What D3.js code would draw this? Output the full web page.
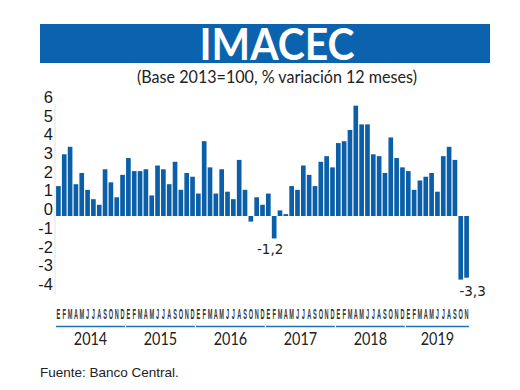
<!DOCTYPE html>
<html>
<head>
<meta charset="utf-8">
<script src="https://cdn.jsdelivr.net/npm/d3@7"></script>
<style>
  html, body { margin: 0; padding: 0; background: #fff; }
  svg { display: block; }
</style>
</head>
<body>
<div id="chart"></div>
<script>
(function() {
    // data (% variación 12 meses)
    var years = ["2014", "2015", "2016", "2017", "2018", "2019"];
    var monthLetters = ["E", "F", "M", "A", "M", "J", "J", "A", "S", "O", "N", "D"];
    var v2014 = [1.6, 3.3, 3.7, 1.7, 2.3, 1.4, 0.9, 0.6, 2.5, 1.8, 1.0, 2.2];
    var v2015 = [3.1, 2.4, 2.4, 2.5, 1.1, 2.7, 2.5, 1.7, 2.9, 1.4, 2.3, 2.1];
    var v2016 = [1.2, 4.0, 2.6, 1.2, 2.5, 1.3, 0.9, 3.0, 1.4, -0.3, 1.0, 0.6];
    var v2017 = [1.2, -1.2, 0.3, 0.1, 1.6, 1.4, 2.7, 2.2, 1.6, 2.9, 3.2, 2.6];
    var v2018 = [3.9, 4.0, 4.6, 5.9, 4.9, 4.9, 3.3, 3.2, 2.3, 4.2, 3.1, 2.6];
    var v2019 = [2.4, 1.4, 1.9, 2.1, 2.3, 1.3, 3.2, 3.7, 3.0, -3.4, -3.3];
    var yTicks = [6, 5, 4, 3, 2, 1, 0, -1, -2, -3, -4];
    var noteIndex = [37, 70];
    var noteText = ["-1,2", "-3,3"];

    var yearValues = [v2014, v2015, v2016, v2017, v2018, v2019];
    var data = [];
    yearValues.forEach(function(vals, yi) {
        vals.forEach(function(v, m) {
            data.push({i: data.length, year: years[yi], month: m, value: v});
        });
    });

    var width = 520, height = 390;
    var blue = "#0a5fa8";

    var svg = d3.select("#chart").append("svg")
        .attr("width", width)
        .attr("height", height);

    // title band
    svg.append("rect")
        .attr("x", 40).attr("y", 24)
        .attr("width", 450).attr("height", 39)
        .attr("fill", "#0b63af");

    svg.append("text")
        .attr("transform", "translate(277,60) scale(1,1.08)")
        .attr("text-anchor", "middle")
        .attr("textLength", 155)
        .attr("lengthAdjust", "spacingAndGlyphs")
        .style("font-family", "Lato, 'Open Sans', sans-serif")
        .style("font-weight", "bold")
        .style("font-size", "40px")
        .style("fill", "#fff")
        .text("IMACEC");

    svg.append("text")
        .attr("x", 277).attr("y", 83)
        .attr("text-anchor", "middle")
        .attr("textLength", 280)
        .attr("lengthAdjust", "spacingAndGlyphs")
        .style("font-family", "Lato, 'Open Sans', sans-serif")
        .style("font-size", "16.5px")
        .style("fill", "#222")
        .text("(Base 2013=100, % variación 12 meses)");

    var x = d3.scaleBand()
        .domain(d3.range(data.length))
        .range([55.5, 469.5])
        .paddingInner(0.2)
        .paddingOuter(0.1);

    var y = d3.scaleLinear()
        .domain([-4, 6])
        .range([216 + 4 * 18.7, 216 - 6 * 18.7]);

    // faint vertical axis
    svg.append("line")
        .attr("x1", 55).attr("x2", 55)
        .attr("y1", y(6)).attr("y2", y(-4) + 4)
        .attr("stroke", "#e2e2e2")
        .attr("stroke-width", 1);

    var yAxis = svg.append("g")
        .attr("transform", "translate(55,0)")
        .call(d3.axisLeft(y).tickValues(yTicks).tickSize(0).tickPadding(2)
            .tickFormat(function(d) { return String(d); }));
    yAxis.select(".domain").remove();
    yAxis.selectAll("text")
        .attr("dy", "-0.08em")
        .style("font-family", "'Liberation Sans', Arial, sans-serif")
        .style("font-size", "16.5px")
        .style("fill", "#1a1a1a");

    svg.selectAll("rect.bar")
        .data(data)
        .enter().append("rect")
        .attr("class", "bar")
        .attr("x", function(d) { return x(d.i); })
        .attr("width", x.bandwidth())
        .attr("y", function(d) { return y(Math.max(0, d.value)); })
        .attr("height", function(d) { return Math.abs(y(d.value) - y(0)); })
        .attr("fill", blue);

    // value notes under the negative bars
    noteIndex.forEach(function(idx, k) {
        var d = data[idx];
        svg.append("text")
            .attr("x", x(idx) + x.bandwidth() / 2 + (k === 0 ? -4 : 6))
            .attr("y", y(d.value) + (k === 0 ? 16 : 18))
            .attr("text-anchor", "middle")
            .style("font-family", "'DejaVu Sans', sans-serif")
            .style("font-size", "13.5px")
            .style("fill", "#222")
            .text(noteText[k]);
    });

    // month letters
    svg.selectAll("text.month")
        .data(data)
        .enter().append("text")
        .attr("class", "month")
        .attr("transform", function(d) {
            return "translate(" + (x(d.i) + x.bandwidth() / 2) + ",318.5) scale(0.4,1)";
        })
        .attr("text-anchor", "middle")
        .style("font-family", "'Liberation Sans', Arial, sans-serif")
        .style("font-weight", "bold")
        .style("font-size", "14px")
        .style("fill", "#333")
        .text(function(d) { return monthLetters[d.month]; });

    // year rules and labels
    years.forEach(function(yr) {
        var rows = data.filter(function(d) { return d.year === yr; });
        var x0 = x(rows[0].i);
        var x1 = x(rows[rows.length - 1].i) + x.bandwidth();
        svg.append("line")
            .attr("x1", x0).attr("x2", x1)
            .attr("y1", 326.5).attr("y2", 326.5)
            .attr("stroke", "#1f72b8")
            .attr("stroke-width", 1.6);
        svg.append("text")
            .attr("transform", "translate(" + ((x0 + x1) / 2) + ",344.5) scale(0.8,1)")
            .attr("text-anchor", "middle")
            .style("font-family", "Lato, 'Open Sans', sans-serif")
            .style("font-size", "18px")
            .style("fill", "#222")
            .text(yr);
    });

    svg.append("text")
        .attr("x", 40).attr("y", 377)
        .style("font-family", "'Liberation Sans', Arial, sans-serif")
        .style("font-size", "13.5px")
        .style("fill", "#222")
        .text("Fuente: Banco Central.");
})();
</script>
</body>
</html>
